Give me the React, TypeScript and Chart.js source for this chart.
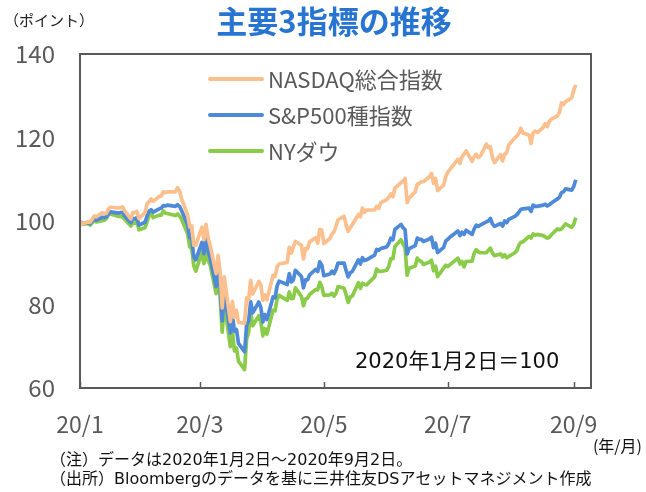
import React, { useEffect, useRef } from "react";
import { Chart, registerables } from "chart.js";

Chart.register(...registerables);

const dates = [
  "1/2","1/3","1/6","1/7","1/8","1/9","1/10","1/13","1/14","1/15","1/16","1/17","1/21","1/22","1/23","1/24","1/27","1/28","1/29","1/30","1/31",
  "2/3","2/4","2/5","2/6","2/7","2/10","2/11","2/12","2/13","2/14","2/18","2/19","2/20","2/21","2/24","2/25","2/26","2/27","2/28",
  "3/2","3/3","3/4","3/5","3/6","3/9","3/10","3/11","3/12","3/13","3/16","3/17","3/18","3/19","3/20","3/23","3/24","3/25","3/26","3/27","3/30","3/31",
  "4/1","4/2","4/3","4/6","4/7","4/8","4/9","4/13","4/14","4/15","4/16","4/17","4/20","4/21","4/22","4/23","4/24","4/27","4/28","4/29","4/30",
  "5/1","5/4","5/5","5/6","5/7","5/8","5/11","5/12","5/13","5/14","5/15","5/18","5/19","5/20","5/21","5/22","5/26","5/27","5/28","5/29",
  "6/1","6/2","6/3","6/4","6/5","6/8","6/9","6/10","6/11","6/12","6/15","6/16","6/17","6/18","6/19","6/22","6/23","6/24","6/25","6/26","6/29","6/30",
  "7/1","7/2","7/6","7/7","7/8","7/9","7/10","7/13","7/14","7/15","7/16","7/17","7/20","7/21","7/22","7/23","7/24","7/27","7/28","7/29","7/30","7/31",
  "8/3","8/4","8/5","8/6","8/7","8/10","8/11","8/12","8/13","8/14","8/17","8/18","8/19","8/20","8/21","8/24","8/25","8/26","8/27","8/28","8/31",
  "9/1","9/2",
];

const nasdaq = [
  100.0, 99.2, 99.8, 99.7, 100.4, 101.2, 101.0, 102.0, 101.8, 101.8, 102.9, 103.3, 103.1, 103.2, 103.4, 102.4, 100.5, 102.0, 102.0, 102.3, 100.6,
  102.0, 104.1, 104.6, 105.3, 104.7, 105.9, 106.0, 107.0, 106.8, 107.0, 107.0, 108.0, 107.2, 105.3, 101.4, 98.6, 98.8, 94.2, 94.2,
  98.5, 95.5, 99.2, 96.1, 94.3, 87.4, 91.8, 87.5, 79.2, 86.6, 75.9, 80.7, 76.9, 78.6, 75.7, 75.5, 81.6, 81.2, 85.8, 82.5, 85.5, 84.7,
  81.0, 82.3, 81.1, 87.0, 86.7, 89.0, 89.7, 90.1, 93.7, 92.3, 93.8, 95.1, 94.2, 90.9, 93.4, 93.4, 95.0, 96.0, 94.7, 98.0, 97.8,
  94.6, 95.8, 96.9, 97.4, 98.8, 100.3, 101.1, 99.0, 97.5, 98.4, 99.1, 101.6, 101.0, 103.1, 102.1, 102.6, 102.7, 103.5, 103.0, 104.4,
  105.1, 105.7, 106.5, 105.8, 107.9, 109.2, 109.5, 110.2, 104.4, 105.5, 107.0, 108.8, 109.0, 109.4, 109.4, 110.6, 111.4, 109.0, 110.2, 107.3, 108.6, 110.6,
  111.7, 112.3, 114.8, 113.8, 115.4, 116.0, 116.8, 114.3, 115.4, 116.0, 115.2, 115.5, 118.4, 117.5, 117.8, 115.1, 114.0, 115.9, 114.4, 116.0, 116.4, 118.2,
  119.9, 120.3, 121.0, 122.2, 121.1, 120.6, 118.6, 121.1, 121.5, 121.2, 122.4, 123.3, 122.6, 123.9, 124.4, 125.2, 126.1, 128.3, 127.9, 128.6, 129.5,
  131.3, 132.6,
];

const sp500 = [
  100.0, 99.3, 99.6, 99.4, 99.9, 100.5, 100.2, 100.9, 100.8, 101.0, 101.8, 102.2, 101.9, 102.0, 102.1, 101.2, 99.6, 100.6, 100.5, 100.8, 99.0,
  99.7, 101.2, 102.4, 102.7, 102.1, 102.9, 103.1, 103.7, 103.6, 103.8, 103.5, 103.9, 103.5, 102.5, 99.0, 96.0, 95.7, 91.4, 90.7,
  94.9, 92.2, 96.1, 92.8, 91.2, 84.3, 88.5, 84.1, 76.1, 83.2, 73.2, 77.6, 73.6, 74.0, 70.7, 68.7, 75.1, 76.0, 80.7, 78.0, 80.6, 79.3,
  75.8, 77.6, 76.4, 81.8, 81.6, 84.4, 85.6, 84.8, 87.4, 85.4, 85.9, 88.2, 86.7, 84.0, 85.9, 85.9, 87.1, 88.4, 87.9, 90.2, 89.4,
  86.9, 87.3, 88.0, 87.4, 88.4, 89.9, 89.9, 88.1, 86.6, 87.6, 87.9, 90.7, 89.7, 91.2, 90.5, 90.7, 91.8, 93.2, 93.0, 93.4,
  93.8, 94.6, 95.9, 95.5, 98.0, 99.2, 98.4, 97.9, 92.1, 93.4, 94.1, 95.9, 95.6, 95.6, 95.1, 95.7, 96.1, 93.6, 94.7, 92.4, 93.7, 95.2,
  95.6, 96.1, 97.6, 96.5, 97.3, 96.8, 97.8, 96.8, 98.1, 99.0, 98.7, 99.0, 99.8, 100.0, 100.6, 99.3, 98.7, 99.4, 98.8, 100.0, 99.6, 100.4,
  101.1, 101.5, 102.1, 102.8, 102.9, 103.1, 102.3, 103.8, 103.5, 103.5, 103.8, 104.0, 103.6, 103.9, 104.3, 105.3, 105.7, 106.8, 107.0, 107.7, 107.4,
  108.3, 109.9,
];

const nyDow = [
  100.0, 99.2, 99.4, 99.0, 99.6, 100.3, 99.8, 100.1, 100.2, 100.6, 101.5, 101.7, 101.1, 101.1, 101.0, 100.4, 98.8, 99.5, 99.5, 100.0, 97.9,
  98.4, 99.8, 101.5, 101.8, 100.8, 101.4, 101.4, 102.4, 101.9, 101.8, 101.3, 101.7, 101.2, 100.4, 96.9, 93.8, 93.4, 89.3, 88.0,
  92.5, 89.8, 93.8, 90.5, 89.6, 82.6, 86.7, 81.6, 73.4, 80.3, 69.9, 73.6, 68.9, 69.6, 66.4, 64.4, 71.7, 73.4, 78.1, 74.9, 77.3, 75.9,
  72.5, 74.2, 72.9, 78.6, 78.5, 81.2, 82.2, 81.0, 83.0, 81.4, 81.5, 84.0, 81.9, 79.7, 81.3, 81.5, 82.4, 83.6, 83.5, 85.3, 84.3,
  82.2, 82.3, 82.7, 82.0, 82.7, 84.3, 83.9, 82.3, 80.5, 81.8, 82.0, 85.2, 83.9, 85.1, 84.8, 84.7, 86.6, 88.5, 88.0, 87.9,
  88.2, 89.2, 91.0, 91.0, 93.9, 95.5, 94.5, 93.5, 87.0, 88.7, 89.2, 91.1, 90.5, 90.3, 89.6, 90.2, 90.6, 88.1, 89.2, 86.7, 88.7, 89.4,
  89.1, 89.5, 91.1, 89.7, 90.3, 89.0, 90.3, 90.4, 92.3, 93.1, 92.6, 92.4, 92.4, 93.0, 93.5, 92.3, 91.7, 92.1, 91.4, 91.9, 91.2, 91.5,
  92.4, 92.9, 94.2, 94.9, 95.0, 96.3, 95.9, 96.9, 96.6, 96.8, 96.5, 96.2, 95.9, 96.1, 96.7, 98.1, 97.9, 98.1, 98.7, 99.3, 98.5,
  99.2, 100.8,
];

const seriesNames = ["NASDAQ総合指数", "S&P500種指数", "NYダウ"];
const seriesColors = ["#FBC08E", "#4F8AD8", "#8BCB4A"];
const tickLabels = ["20/1", "20/3", "20/5", "20/7", "20/9"];
const tickDates = ["1/2", "3/1", "5/1", "7/1", "9/1"];
const yTicks = [60, 80, 100, 120, 140];

const titleText = "主要3指標の推移";
const unitText = "（ポイント）";
const baseNote = "2020年1月2日＝100";
const xUnitText = "(年/月)";
const note1 = "（注）データは2020年1月2日～2020年9月2日。";
const note2 = "（出所）Bloombergのデータを基に三井住友DSアセットマネジメント作成";

const MONTH_START: Record<number, number> = { 1: 0, 2: 31, 3: 60, 4: 91, 5: 121, 6: 152, 7: 182, 8: 213, 9: 244 };
const dayOf = (s: string) => {
  const [m, d] = s.split("/").map(Number);
  return MONTH_START[m] + d - 1;
};

const FONT = '"Noto Sans CJK JP", "Noto Sans", sans-serif';
const WIDE = '"DejaVu Sans", "Noto Sans CJK JP", sans-serif';

const decorPlugin = {
  id: "decor",
  afterDraw(chart: any) {
    const { ctx, chartArea } = chart;
    const { left, right, top, bottom } = chartArea;
    const xs = chart.scales.x;
    ctx.save();
    ctx.strokeStyle = "#595959";
    ctx.lineWidth = 2;
    ctx.strokeRect(left, top, right - left, bottom - top);
    ctx.lineWidth = 1.5;
    tickDates.forEach((d) => {
      const px = Math.round(xs.getPixelForValue(dayOf(d))) + 0.5;
      ctx.beginPath();
      ctx.moveTo(px, bottom);
      ctx.lineTo(px, bottom - 6);
      ctx.stroke();
    });
    ctx.fillStyle = "#2874D2";
    ctx.font = `bold 31px ${FONT}`;
    ctx.textAlign = "center";
    ctx.textBaseline = "middle";
    ctx.fillText(titleText, 334, 21);
    ctx.fillStyle = "#222";
    ctx.font = `15px ${FONT}`;
    ctx.textAlign = "left";
    ctx.fillText(unitText, 4, 20);
    ctx.font = `22px ${FONT}`;
    const ly = [79, 115, 151];
    seriesNames.forEach((name, i) => {
      ctx.strokeStyle = seriesColors[i];
      ctx.lineWidth = 4;
      ctx.lineCap = "round";
      ctx.beginPath();
      ctx.moveTo(210, ly[i]);
      ctx.lineTo(262, ly[i]);
      ctx.stroke();
      ctx.fillStyle = "#595959";
      ctx.fillText(name, 268, ly[i] + 1);
    });
    ctx.fillStyle = "#111";
    ctx.font = `21px ${WIDE}`;
    ctx.textAlign = "left";
    ctx.fillText(baseNote, 355, 363);
    ctx.font = `16px ${FONT}`;
    ctx.textAlign = "right";
    ctx.fillText(xUnitText, 642, 446);
    ctx.textAlign = "left";
    ctx.font = `16px ${WIDE}`;
    ctx.fillText(note1, 50, 461);
    ctx.fillText(note2, 50, 480);
    ctx.restore();
  },
};

export default function App() {
  const ref = useRef<HTMLCanvasElement | null>(null);
  useEffect(() => {
    if (!ref.current) return;
    const xs = dates.map(dayOf);
    const mk = (vals: number[]) => vals.map((v, i) => ({ x: xs[i], y: v }));
    const tickDays = tickDates.map(dayOf);
    const chart = new Chart(ref.current, {
      type: "line",
      data: {
        datasets: [nasdaq, sp500, nyDow].map((vals, i) => ({
          label: seriesNames[i],
          data: mk(vals),
          borderColor: seriesColors[i],
          backgroundColor: seriesColors[i],
          borderWidth: 3.7,
          pointRadius: 0,
          tension: 0,
          borderJoinStyle: "round" as const,
        })),
      },
      options: {
        animation: false,
        responsive: false,
        devicePixelRatio: 1,
        layout: { padding: { top: 54, right: 55, left: 0, bottom: 0 } },
        plugins: { legend: { display: false }, tooltip: { enabled: false } },
        scales: {
          x: {
            type: "linear",
            min: dayOf("1/2"),
            max: 252.5,
            grid: { display: false, drawTicks: false },
            border: { display: false },
            afterBuildTicks: (s: any) => {
              s.ticks = tickDays.map((v) => ({ value: v }));
            },
            afterFit: (s: any) => {
              s.height = 104;
            },
            ticks: {
              autoSkip: false,
              maxRotation: 0,
              padding: 22,
              color: "#595959",
              font: { size: 23, family: FONT },
              callback: (_v: any, i: number) => tickLabels[i],
            },
          },
          y: {
            min: 60,
            max: 140,
            grid: { display: false, drawTicks: false },
            border: { display: false },
            afterBuildTicks: (s: any) => {
              s.ticks = yTicks.map((v) => ({ value: v }));
            },
            afterFit: (s: any) => {
              s.width = 80;
            },
            ticks: {
              padding: 25,
              color: "#595959",
              font: { size: 24, family: FONT },
            },
          },
        },
      },
      plugins: [decorPlugin],
    });
    return () => chart.destroy();
  }, []);
  return (
    <div style={{ position: "absolute", left: 0, top: 0, width: 646, height: 492, background: "#fff" }}>
      <canvas ref={ref} width={646} height={492} style={{ width: 646, height: 492, display: "block" }} />
    </div>
  );
}
